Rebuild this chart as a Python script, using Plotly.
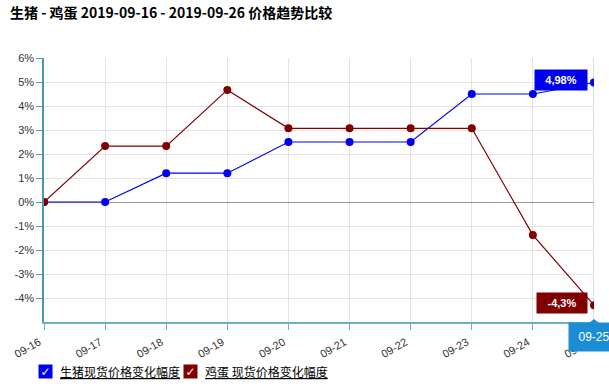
import plotly.graph_objects as go

dates = ["09-16", "09-17", "09-18", "09-19", "09-20", "09-21", "09-22", "09-23", "09-24", "09-25"]
pig_name = "生猪现货价格变化幅度"
egg_name = "鸡蛋 现货价格变化幅度"
pig_values = [0, 0, 1.2, 1.2, 2.5, 2.5, 2.5, 4.5, 4.5, 4.98]
egg_values = [0, 2.33, 2.33, 4.67, 3.07, 3.07, 3.07, 3.07, -1.38, -4.3]
y_ticks = [-4, -3, -2, -1, 0, 1, 2, 3, 4, 5, 6]
y_tick_labels = [f"{v}%" for v in y_ticks]
title_text = "生猪 - 鸡蛋 2019-09-16 - 2019-09-26 价格趋势比较"

pig_color = "#0000EE"
egg_color = "#800000"
FONT = "Liberation Sans, Arial, sans-serif"
CJK = "Noto Sans CJK SC, sans-serif"

W, H = 609, 386
ML, MR, MT, MB = 44, 15, 58, 64
PW, PH = W - ML - MR, H - MT - MB

def px(x):
    return (x - ML) / PW

def py(y):
    return (H - MB - y) / PH

fig = go.Figure()
fig.add_trace(go.Scatter(x=dates, y=pig_values, name=pig_name, mode="lines+markers",
                         line=dict(color=pig_color, width=1.2),
                         marker=dict(color=pig_color, size=8)))
fig.add_trace(go.Scatter(x=dates, y=egg_values, name=egg_name, mode="lines+markers",
                         line=dict(color=egg_color, width=1.2),
                         marker=dict(color=egg_color, size=8)))

def fmt(v):
    return f"{v:g}".replace(".", ",") + "%"

annotations = []
for vals, col, w, ys in [(pig_values, pig_color, 46, 2), (egg_values, egg_color, 44, 2)]:
    annotations.append(dict(x=dates[-1], y=vals[-1], xref="x", yref="y",
                            text="<b>" + fmt(vals[-1]) + "</b>", showarrow=False,
                            xanchor="right", yanchor="middle", xshift=-6, yshift=ys,
                            bgcolor=col, font=dict(color="white", size=11, family=FONT),
                            width=w, height=14, borderpad=3))
annotations.append(dict(x=1, y=0, xref="paper", yref="paper", text=dates[-1],
                        showarrow=False, xanchor="center", yanchor="top", yshift=0,
                        bgcolor="#1B8DD4", font=dict(color="white", size=12, family=FONT),
                        width=46, height=24, borderpad=2))
legend_items = [(pig_name, pig_color, 38, 58), (egg_name, egg_color, 183, 203)]
for name, col, bx, tx in legend_items:
    annotations.append(dict(x=px(bx), y=py(371), xref="paper", yref="paper",
                            text="<b>✓</b>", showarrow=False, xanchor="left", yanchor="middle",
                            bgcolor=col, font=dict(color="white", size=12, family="DejaVu Sans"),
                            width=13, height=13, borderpad=0))
    annotations.append(dict(x=px(tx), y=py(371), xref="paper", yref="paper",
                            text="<u>" + name + "</u>", showarrow=False, xanchor="left",
                            yanchor="middle", font=dict(color="#000000", size=12, family=CJK)))

shapes = [
    dict(type="line", xref="x", yref="paper", x0=dates[-1], x1=dates[-1], y0=0, y1=1,
         line=dict(color="#9FC3D6", width=1), layer="below"),
    dict(type="path", xref="paper", yref="paper",
         path=f"M {px(594)},{py(319)} L {px(589)},{py(323)} L {px(599)},{py(323)} Z",
         fillcolor="#1B8DD4", line=dict(width=0)),
]

fig.update_layout(
    width=W, height=H,
    margin=dict(l=ML, r=MR, t=MT, b=MB, autoexpand=False),
    paper_bgcolor="white", plot_bgcolor="white",
    showlegend=False,
    title=dict(text="<b>" + title_text + "</b>", x=10 / W, xref="container", xanchor="left",
               y=1 - 13 / H, yref="container", yanchor="middle", automargin=False,
               pad=dict(l=0, r=0, t=0, b=0),
               font=dict(size=14, color="#000000", family=CJK)),
    annotations=annotations,
    shapes=shapes,
    font=dict(family=FONT, size=11, color="#333333"),
)
fig.update_xaxes(type="category", range=[0, len(dates) - 1], automargin=False,
                 showgrid=True, gridcolor="#E3E3E3", gridwidth=1,
                 showline=True, linecolor="#6FAFC4", linewidth=1.5,
                 ticks="outside", ticklen=6, tickcolor="#6FAFC4",
                 tickangle=-30, ticklabelshift=-5, ticklabelstandoff=2,
                 tickfont=dict(size=11, color="#333333", family=FONT),
                 zeroline=False)
fig.update_yaxes(range=[-5.0, 6.0], tickvals=y_ticks, ticktext=y_tick_labels, automargin=False,
                 showgrid=True, gridcolor="#E3E3E3", gridwidth=1,
                 showline=True, linecolor="#4A97AE", linewidth=1.5,
                 ticks="outside", ticklen=6, tickcolor="#4A97AE",
                 zeroline=True, zerolinecolor="#999999", zerolinewidth=1,
                 tickfont=dict(size=11, color="#333333", family=FONT))

fig.write_html("out.html", config={"displayModeBar": False},
               post_script="document.body.style.margin='0';document.body.style.overflow='hidden';")
